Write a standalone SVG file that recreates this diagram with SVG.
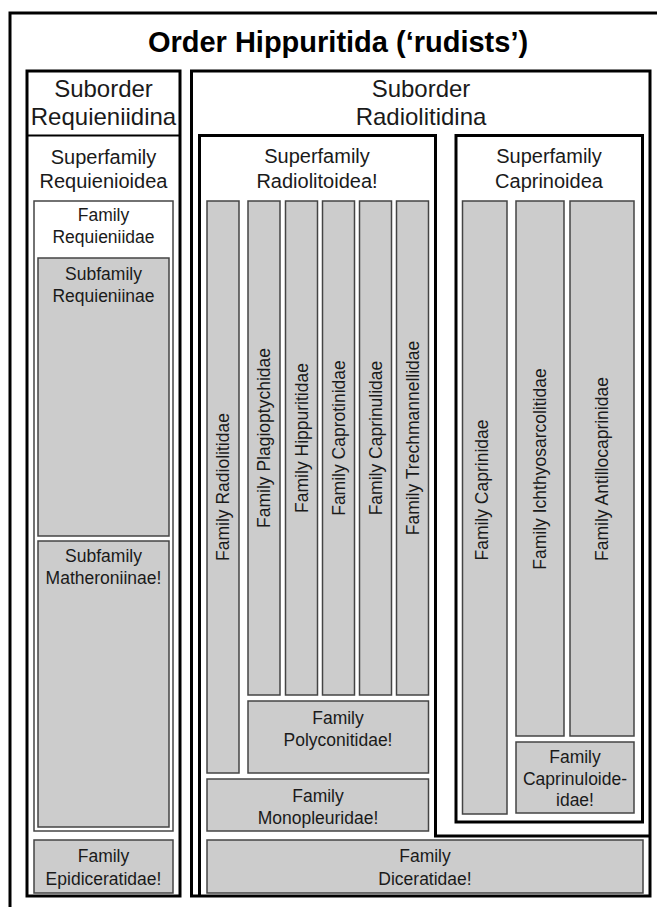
<svg xmlns="http://www.w3.org/2000/svg" width="657" height="907" viewBox="0 0 657 907">
<style>
text{font-family:"Liberation Sans",Arial,sans-serif;fill:#1a1a1a;text-anchor:middle}
.thick{fill:none;stroke:#000;stroke-width:3}
.fam{fill:#cccccc;stroke:#444;stroke-width:1.5}
.white{fill:#fff;stroke:#444;stroke-width:1.5}
.t24{font-size:24px}
.t20{font-size:20px}
.t17{font-size:17.5px}
.v{font-size:17.5px;dominant-baseline:central}
</style>
<rect width="657" height="907" fill="#fff"/>
<g id="order">
<rect class="thick" x="10" y="13" width="720" height="960"/>
<text x="338" y="52" style="font-size:29px;font-weight:bold;fill:#000">Order Hippuritida (‘rudists’)</text>
</g>
<g id="suborder-requieniidina">
<rect class="thick" x="27" y="71" width="153" height="825"/>
<line x1="27" y1="135.5" x2="180" y2="135.5" stroke="#000" stroke-width="2"/>
<text class="t24" x="103.5" y="97">Suborder</text>
<text class="t24" x="103.5" y="125">Requieniidina</text>
</g>
<g id="superfamily-requienioidea">
<text class="t20" x="103.5" y="164">Superfamily</text>
<text class="t20" x="103.5" y="188">Requienioidea</text>
</g>
<g id="family-requieniidae">
<rect class="white" x="34" y="201" width="139" height="630"/>
<text class="t17" x="103.5" y="221">Family</text>
<text class="t17" x="103.5" y="243">Requieniidae</text>
</g>
<g id="subfamily-requieniinae">
<rect class="fam" x="38" y="258" width="131" height="278"/>
<text class="t17" x="103.5" y="280">Subfamily</text>
<text class="t17" x="103.5" y="302">Requieniinae</text>
</g>
<g id="subfamily-matheroniinae">
<rect class="fam" x="38" y="541" width="131" height="286"/>
<text class="t17" x="103.5" y="562">Subfamily</text>
<text class="t17" x="103.5" y="584">Matheroniinae!</text>
</g>
<g id="family-epidiceratidae">
<rect class="fam" x="34" y="840" width="139" height="53"/>
<text class="t17" x="103.5" y="862">Family</text>
<text class="t17" x="103.5" y="885">Epidiceratidae!</text>
</g>
<g id="suborder-radiolitidina">
<rect class="thick" x="191.5" y="71" width="458.5" height="825"/>
<text class="t24" x="421" y="97">Suborder</text>
<text class="t24" x="421" y="125">Radiolitidina</text>
</g>
<g id="superfamily-radiolitoidea">
<path class="thick" d="M199.5,896 V135.5 H435.5 V836 H650"/>
<text class="t20" x="317" y="163">Superfamily</text>
<text class="t20" x="317" y="188">Radiolitoidea!</text>
</g>
<g id="family-radiolitidae">
<rect class="fam" x="207" y="201" width="32" height="572"/>
<text class="v" transform="translate(223,487) rotate(-90)">Family Radiolitidae</text>
</g>
<g id="family-plagioptychidae">
<rect class="fam" x="248" y="201" width="32" height="494"/>
<text class="v" transform="translate(264,438) rotate(-90)">Family Plagioptychidae</text>
</g>
<g id="family-hippuritidae">
<rect class="fam" x="285.5" y="201" width="32" height="494"/>
<text class="v" transform="translate(301.5,438) rotate(-90)">Family Hippuritidae</text>
</g>
<g id="family-caprotinidae">
<rect class="fam" x="322.5" y="201" width="32" height="494"/>
<text class="v" transform="translate(338.5,438) rotate(-90)">Family Caprotinidae</text>
</g>
<g id="family-caprinulidae">
<rect class="fam" x="359.5" y="201" width="32" height="494"/>
<text class="v" transform="translate(375.5,438) rotate(-90)">Family Caprinulidae</text>
</g>
<g id="family-trechmannellidae">
<rect class="fam" x="396.5" y="201" width="32" height="494"/>
<text class="v" transform="translate(412.5,438) rotate(-90)">Family Trechmannellidae</text>
</g>
<g id="family-polyconitidae">
<rect class="fam" x="248" y="701" width="180.5" height="72"/>
<text class="t17" x="338" y="724">Family</text>
<text class="t17" x="338" y="746">Polyconitidae!</text>
</g>
<g id="family-monopleuridae">
<rect class="fam" x="207" y="779" width="221.5" height="52"/>
<text class="t17" x="318" y="802">Family</text>
<text class="t17" x="318" y="824">Monopleuridae!</text>
</g>
<g id="family-diceratidae">
<rect class="fam" x="207" y="840" width="436" height="53"/>
<text class="t17" x="425" y="862">Family</text>
<text class="t17" x="425" y="885">Diceratidae!</text>
</g>
<g id="superfamily-caprinoidea">
<rect class="thick" x="456" y="135.5" width="186.5" height="686.5"/>
<text class="t20" x="549" y="163">Superfamily</text>
<text class="t20" x="549" y="188">Caprinoidea</text>
</g>
<g id="family-caprinidae">
<rect class="fam" x="462.5" y="201" width="44.5" height="613"/>
<text class="v" transform="translate(482,490) rotate(-90)">Family Caprinidae</text>
</g>
<g id="family-ichthyosarcolitidae">
<rect class="fam" x="516" y="201" width="48" height="535"/>
<text class="v" transform="translate(540,469) rotate(-90)">Family Ichthyosarcolitidae</text>
</g>
<g id="family-antillocaprinidae">
<rect class="fam" x="570" y="201" width="64" height="535"/>
<text class="v" transform="translate(602,469) rotate(-90)">Family Antillocaprinidae</text>
</g>
<g id="family-caprinuloideidae">
<rect class="fam" x="516" y="742" width="118" height="71"/>
<text class="t17" x="575" y="763">Family</text>
<text class="t17" x="575" y="785">Caprinuloide-</text>
<text class="t17" x="575" y="806">idae!</text>
</g>
<g id="connectors"/>
</svg>
